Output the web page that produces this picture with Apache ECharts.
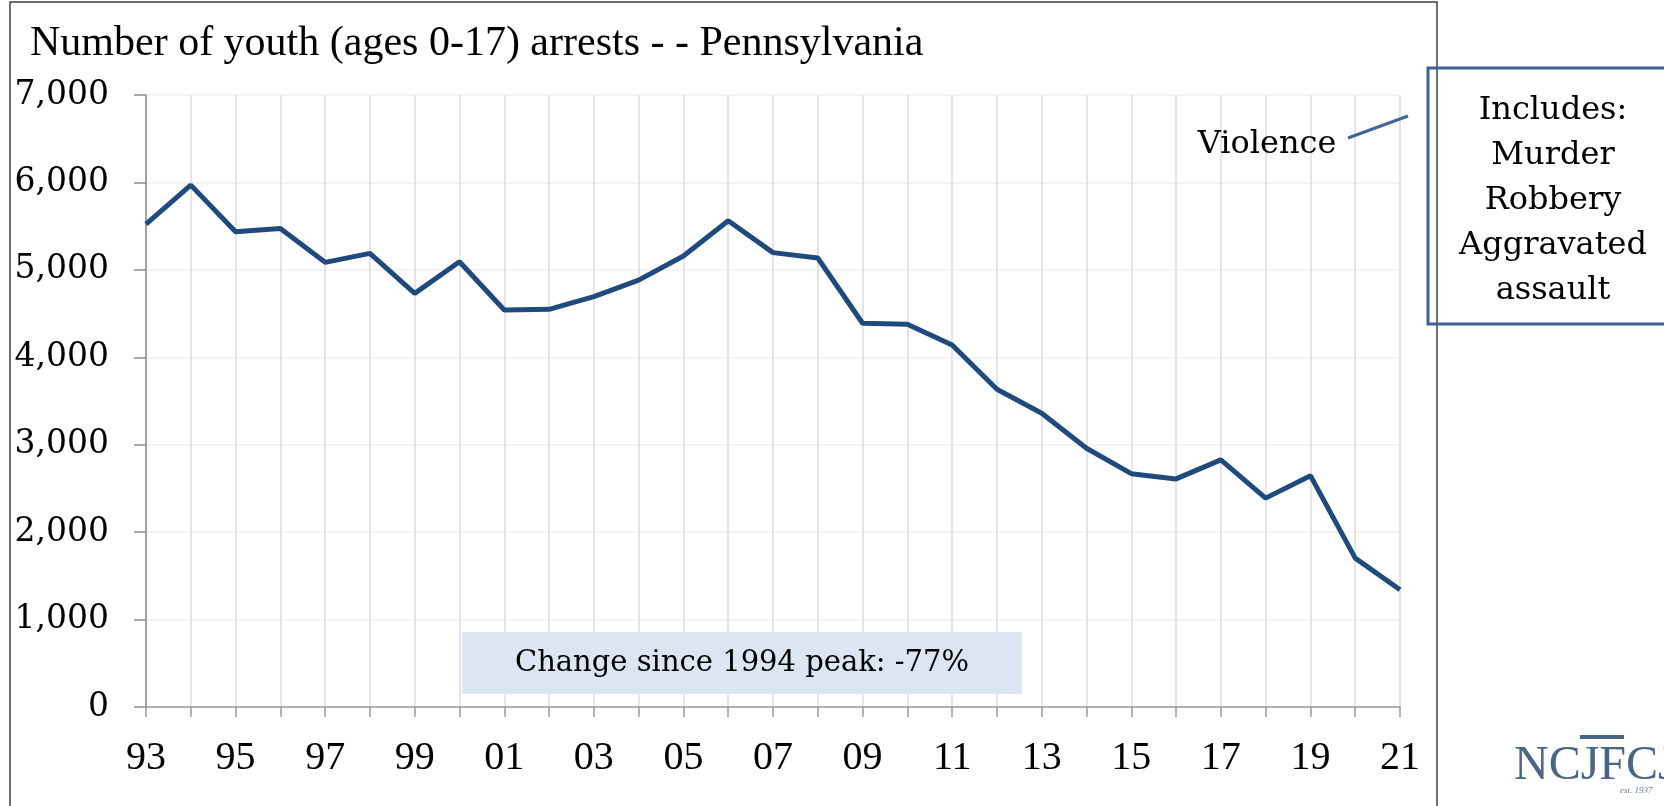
<!DOCTYPE html>
<html>
<head>
<meta charset="utf-8">
<script src="https://cdn.jsdelivr.net/npm/echarts@6/dist/echarts.min.js"></script>
<style>
  html, body { margin: 0; padding: 0; background: #fff; }
  #chart { width: 1664px; height: 806px; }
</style>
</head>
<body>
<div id="chart"></div>
<script>
// ---- Data ----
const years = ['93','94','95','96','97','98','99','00','01','02','03','04','05','06','07','08','09','10','11','12','13','14','15','16','17','18','19','20','21'];
const violenceArrests = [5523, 5969, 5435, 5474, 5086, 5189, 4731, 5093, 4541, 4549, 4693, 4883, 5158, 5561, 5197, 5136, 4389, 4378, 4141, 3634, 3360, 2960, 2669, 2609, 2826, 2389, 2646, 1703, 1341];
const yMin = 0;
const yMax = 7000;
const yInterval = 1000;
const titleText = 'Number of youth (ages 0-17) arrests - - Pennsylvania';
const seriesLabel = 'Violence';
const includesLines = ['Includes:', 'Murder', 'Robbery', 'Aggravated', 'assault'];
const changeText = 'Change since 1994 peak: -77%';

const serif = '"DejaVu Serif", "Liberation Serif", serif';
const narrowSerif = '"Liberation Serif", "DejaVu Serif", serif';

const chart = echarts.init(document.getElementById('chart'), null, { renderer: 'canvas' });

chart.setOption({
  animation: false,
  backgroundColor: '#ffffff',
  title: {
    text: titleText,
    left: 30,
    top: 23,
    padding: 0,
    textStyle: { fontFamily: narrowSerif, fontSize: 42, fontWeight: 'normal', color: '#000' }
  },
  grid: { left: 146, right: 264, top: 95, bottom: 99, containLabel: false },
  xAxis: {
    type: 'category',
    data: years,
    boundaryGap: false,
    axisLine: { show: true, lineStyle: { color: '#9a9a9a', width: 1.5 } },
    axisTick: { show: true, interval: 0, length: 10, lineStyle: { color: '#9a9a9a', width: 1.5 } },
    axisLabel: { interval: 1, margin: 31, fontFamily: narrowSerif, fontSize: 40, color: '#000' },
    splitLine: { show: true, interval: 0, lineStyle: { color: '#dcdcdc', width: 1.5 } }
  },
  yAxis: {
    type: 'value',
    min: yMin,
    max: yMax,
    interval: yInterval,
    axisLine: { show: true, lineStyle: { color: '#8c8c8c', width: 1.5 } },
    axisTick: { show: true, length: 12, lineStyle: { color: '#8c8c8c', width: 1.5 } },
    axisLabel: {
      margin: 37,
      fontFamily: serif,
      fontSize: 33,
      color: '#000',
      formatter: v => v.toLocaleString('en-US')
    },
    splitLine: { show: true, lineStyle: { color: '#efefef', width: 1.5 } }
  },
  series: [{
    name: seriesLabel,
    type: 'line',
    data: violenceArrests,
    symbol: 'none',
    lineStyle: { color: '#1f4a7e', width: 5 },
    z: 3
  }],
  graphic: [
    { type: 'rect', z: 1, silent: true,
      shape: { x: 10, y: 2, width: 1427, height: 840 },
      style: { fill: 'none', stroke: '#404040', lineWidth: 1.5 } },
    { type: 'rect', z: 20, silent: true,
      shape: { x: 462, y: 632, width: 560, height: 62 },
      style: { fill: '#dce6f2' } },
    { type: 'text', z: 21, silent: true, x: 742, y: 663,
      style: { text: changeText, fontFamily: serif, fontSize: 29, fill: '#000', align: 'center', verticalAlign: 'middle' } },
    { type: 'text', z: 21, silent: true, x: 1267, y: 145,
      style: { text: seriesLabel, fontFamily: serif, fontSize: 32, fill: '#000', align: 'center', verticalAlign: 'middle' } },
    { type: 'line', z: 21, silent: true,
      shape: { x1: 1348, y1: 138, x2: 1408, y2: 116 },
      style: { stroke: '#41679a', lineWidth: 3 } },
    { type: 'rect', z: 20, silent: true,
      shape: { x: 1428, y: 68, width: 260, height: 256 },
      style: { fill: 'none', stroke: '#3d6394', lineWidth: 3 } },
    { type: 'text', z: 21, silent: true, x: 1553, y: 201,
      style: { text: includesLines.join('\n'), fontFamily: serif, fontSize: 32, lineHeight: 45, fill: '#000', align: 'center', verticalAlign: 'middle' } },
    { type: 'text', z: 21, silent: true, x: 1514, y: 766,
      style: { text: 'NCJFCJ', fontFamily: narrowSerif, fontSize: 48, fill: '#4b6585', align: 'left', verticalAlign: 'middle' } },
    { type: 'rect', z: 21, silent: true,
      shape: { x: 1580, y: 735, width: 44, height: 4 },
      style: { fill: '#4b6585' } },
    { type: 'text', z: 21, silent: true, x: 1620, y: 791,
      style: { text: 'est. 1937', fontFamily: narrowSerif, fontStyle: 'italic', fontSize: 9, fill: '#6b7d95', align: 'left', verticalAlign: 'middle' } }
  ]
});
</script>
</body>
</html>
